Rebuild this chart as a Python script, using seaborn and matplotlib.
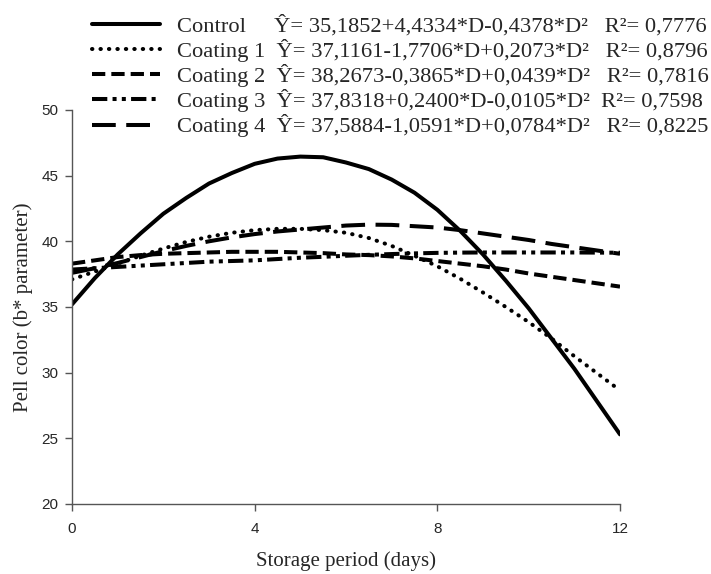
import numpy as np
import pandas as pd
import matplotlib
matplotlib.use('Agg')
import matplotlib.pyplot as plt
import seaborn as sns

# values, every half day
days = [0, 0.5, 1, 1.5, 2, 2.5, 3, 3.5, 4, 4.5, 5, 5.5, 6,
        6.5, 7, 7.5, 8, 8.5, 9, 9.5, 10, 10.5, 11, 11.5, 12]
control = [35.2, 37.2, 39.0, 40.6, 42.1, 43.3, 44.4, 45.2, 45.9, 46.3, 46.45, 46.4, 46.0,
           45.5, 44.7, 43.7, 42.4, 40.8, 39.0, 37.0, 34.9, 32.6, 30.3, 27.8, 25.3]
coating1 = [37.1, 37.7, 38.3, 38.9, 39.45, 39.95, 40.35, 40.65, 40.85, 40.95, 40.95, 40.85, 40.65,
            40.25, 39.65, 38.9, 38.1, 37.15, 36.1, 35.0, 33.85, 32.6, 31.25, 29.95, 28.65]
coating2 = [38.3, 38.55, 38.8, 38.95, 39.05, 39.1, 39.15, 39.2, 39.2, 39.2, 39.15, 39.1, 39.0,
            38.95, 38.85, 38.7, 38.5, 38.3, 38.1, 37.85, 37.55, 37.3, 37.05, 36.8, 36.55]
coating3 = [37.85, 37.95, 38.05, 38.15, 38.25, 38.35, 38.45, 38.5, 38.55, 38.65, 38.75, 38.82, 38.9,
            38.97, 39.03, 39.08, 39.12, 39.14, 39.15, 39.15, 39.15, 39.15, 39.15, 39.14, 39.13]
coating4 = [37.6, 37.95, 38.35, 38.8, 39.25, 39.65, 40.0, 40.3, 40.55, 40.75, 40.9, 41.05, 41.2,
            41.27, 41.25, 41.15, 41.05, 40.85, 40.6, 40.35, 40.1, 39.8, 39.55, 39.3, 39.05]

treatments = ['Control', 'Coating 1', 'Coating 2', 'Coating 3', 'Coating 4']
equations = ['35,1852+4,4334*D-0,4378*D²',
             '37,1161-1,7706*D+0,2073*D²',
             '38,2673-0,3865*D+0,0439*D²',
             '37,8318+0,2400*D-0,0105*D²',
             '37,5884-1,0591*D+0,0784*D²']
r2_values = ['0,7776', '0,8796', '0,7816', '0,7598', '0,8225']
x_ticks = [0, 4, 8, 12]
y_ticks = [20, 25, 30, 35, 40, 45, 50]

sns.set_style('ticks')
plt.rcParams['font.family'] = ['Liberation Serif', 'DejaVu Serif']

df = pd.DataFrame({
    'day': days * 5,
    'value': control + coating1 + coating2 + coating3 + coating4,
    'treatment': np.repeat(treatments, len(days)),
})

dash_styles = {
    'Control': '',
    'Coating 1': (0.1, 2.0),
    'Coating 2': (3.3, 1.5),
    'Coating 3': (3.8, 1.3, 1.0, 1.3, 1.0, 1.3),
    'Coating 4': (5.9, 2.6),
}

fig = plt.figure(figsize=(7.11, 5.74), dpi=100)
ax = fig.add_axes([0.1013, 0.122, 0.7707, 0.6864])

sns.lineplot(data=df, x='day', y='value', style='treatment', dashes=dash_styles,
             color='black', linewidth=2.9, estimator=None, sort=False,
             legend=False, ax=ax)

lines = dict(zip(treatments, ax.lines))
lines['Coating 1'].set_dash_capstyle('round')

ax.set_xlim(0, 12)
ax.set_ylim(20, 50)
ax.set_xticks(x_ticks)
ax.set_yticks(y_ticks)
ax.tick_params(axis='both', length=5, width=1, color='#555555', labelsize=11)
ax.tick_params(axis='x', pad=8)
ax.tick_params(axis='y', pad=5)
for lab in ax.get_xticklabels() + ax.get_yticklabels():
    lab.set_family('Liberation Sans')
for side in ['left', 'bottom']:
    ax.spines[side].set_color('#555555')
    ax.spines[side].set_linewidth(1)
sns.despine(ax=ax)

ax.set_xlabel('Storage period (days)', fontsize=15, labelpad=11)
ax.set_ylabel('Pell color (b* parameter)', fontsize=15, labelpad=6)

pads = ['     ', '  ', '  ', '  ', '  ']
r_pads = ['   ', '   ', '   ', '  ', '   ']
labels = [f'{t}{p}Ŷ= {e}{rp}R²= {r}' for t, p, e, rp, r in zip(treatments, pads, equations, r_pads, r2_values)]
handles = [lines[t] for t in treatments]
fig.legend(handles, labels, loc='upper left', bbox_to_anchor=(92 / 711, 1 - 15 / 574),
           frameon=False, prop={'family': 'Liberation Serif', 'size': 16.2},
           handlelength=3.0, handletextpad=0.78, labelspacing=0.1,
           borderpad=0, borderaxespad=0)

plt.savefig('out.png', dpi=100)
plt.close()
